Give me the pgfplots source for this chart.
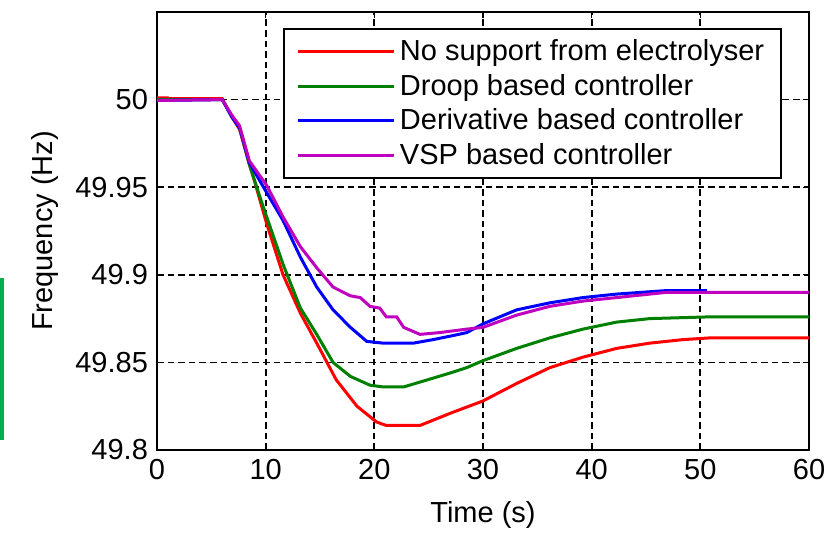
\documentclass[border=0pt]{standalone}
\usepackage{fontspec}
\setmainfont{Liberation Sans}
\usepackage{pgfplots}
\pgfplotsset{compat=1.18}

\definecolor{mred}{RGB}{255,0,0}
\definecolor{mgreen}{RGB}{0,128,0}
\definecolor{mblue}{RGB}{0,0,255}
\definecolor{mmag}{RGB}{191,0,191}
\definecolor{barcol}{RGB}{0,176,80}

\begin{document}
\begin{tikzpicture}
\begin{axis}[
    width=326pt, height=219pt,
    scale only axis,
    xmin=0, xmax=60, ymin=49.8, ymax=50.05,
    xtick={0,10,...,60},
    ytick={49.8,49.85,49.9,49.95,50},
    yticklabels={49.8,49.85,49.9,49.95,50},
    /pgf/number format/assume math mode=true,
    font=\fontsize{14.5}{16}\selectfont,
    tick label style={font=\fontsize{14.5}{16}\selectfont},
    tick align=inside, major tick length=3pt,
    tick style={black, line width=0.6pt},
    xtick pos=both, ytick pos=both,
    axis line style={black, line width=1pt},
    grid=major,
    major grid style={black, dashed, dash pattern=on 3.3pt off 2pt, line width=0.9pt},
    xlabel={Time (s)}, ylabel={Frequency (Hz)},
    xlabel style={at={(rel axis cs:0.5,-0.148)}, anchor=center},
    ylabel style={at={(rel axis cs:-0.172,0.5)}, anchor=center},
    yticklabel style={xshift=-1pt},
    xticklabel style={yshift=-1pt},
    legend cell align=left,
    legend style={at={(rel axis cs:0.9586,0.9635)}, anchor=north east,
        draw=black, line width=0.8pt, font=\fontsize{14.5}{16}\selectfont,
        row sep=1.2pt, inner xsep=6.5pt, inner ysep=3.5pt},
    legend image code/.code={%
        \draw[#1, line width=0.5pt] (0pt,0pt) -- (44pt,0pt);
        \path (-1pt,0pt) -- (47pt,0pt);},
]
\addplot[mred, line width=1.5pt] coordinates {
(0,50.001) (1,50.001) (1.1,50.0005) (6,50.0005) (6.9,49.990) (7.6,49.983)
(8.5,49.963) (9.0,49.953) (10.1,49.929) (11.6,49.900) (13.2,49.878)
(14.7,49.861) (16.5,49.840) (18.4,49.825) (20.2,49.816) (21.1,49.814)
(24.2,49.814) (27.0,49.821) (30.0,49.828) (33.1,49.838) (36.15,49.847)
(39.2,49.853) (42.3,49.858) (45.35,49.861) (48.4,49.863) (50.9,49.864)
(60,49.864)
};
\addlegendentry{No support from electrolyser}
\addplot[mgreen, line width=1.5pt] coordinates {
(0,50.0) (6,50.0) (6.9,49.990) (7.6,49.984) (8.5,49.963) (9.6,49.942)
(11.6,49.906) (13.2,49.881) (14.7,49.866) (16.2,49.850) (17.8,49.842)
(19.6,49.837) (20.8,49.836) (22.7,49.836) (25.4,49.841) (27.0,49.844)
(28.5,49.847) (30.0,49.851) (33.1,49.858) (36.15,49.864) (39.2,49.869)
(42.3,49.873) (45.35,49.875) (50.9,49.876) (60,49.876)
};
\addlegendentry{Droop based controller}
\addplot[mblue, line width=1.5pt] coordinates {
(0,49.9995) (6,50.0) (6.9,49.990) (7.6,49.984) (8.5,49.964) (9.8,49.950)
(11.6,49.931) (13.2,49.910) (14.7,49.893) (16.2,49.880) (17.8,49.870)
(19.3,49.862) (20.8,49.861) (23.6,49.861) (25.4,49.863) (27.0,49.865)
(28.5,49.867) (30.0,49.872) (33.1,49.880) (36.15,49.884) (39.2,49.887)
(42.3,49.889) (46.9,49.891) (50.6,49.891)
};
\addlegendentry{Derivative based controller}
\addplot[mmag, line width=1.5pt] coordinates {
(0,49.9995) (6,50.0) (6.9,49.991) (7.6,49.985) (8.5,49.965) (10.1,49.951)
(11.6,49.933) (13.2,49.916) (14.7,49.904) (16.2,49.893) (17.8,49.888)
(18.7,49.887) (19.6,49.882) (20.5,49.881) (21.1,49.876) (22.05,49.876)
(22.7,49.870) (24.2,49.866) (26.0,49.867) (28.5,49.869) (30.0,49.870)
(33.1,49.877) (36.15,49.882) (39.2,49.885) (42.3,49.887) (46.9,49.890)
(60,49.890)
};
\addlegendentry{VSP based controller}
\coordinate (bl) at (rel axis cs:0,0);
\coordinate (tr) at (rel axis cs:1,1);
\end{axis}
\fill[barcol] ([shift={(-78.5pt,5pt)}]bl) rectangle ([shift={(-76.5pt,86pt)}]bl);
\pgfresetboundingbox
\useasboundingbox ([shift={(-78.5pt,-44.5pt)}]bl) rectangle ([shift={(13.5pt,6pt)}]tr);
\end{tikzpicture}
\end{document}
